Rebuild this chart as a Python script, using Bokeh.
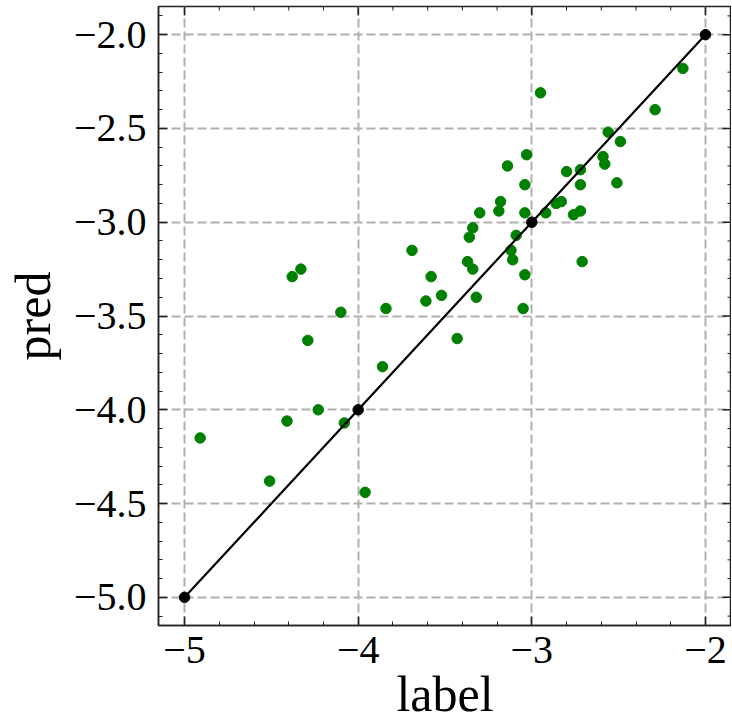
import math
from bokeh.plotting import figure
from bokeh.models import LinearAxis, FixedTicker, Range1d
from bokeh.embed import file_html
from bokeh.resources import INLINE

# ---- data ----
label_vals = [-2.13, -2.29, -2.95, -2.56, -2.49, -3.03, -2.59, -2.58, -3.14, -2.80,
              -2.72, -3.04, -2.72, -2.51, -3.18, -3.19, -3.30, -3.04, -2.92, -2.86,
              -2.83, -2.76, -2.72, -3.34, -3.36, -3.09, -3.12, -3.11, -3.37, -3.34,
              -2.71, -3.58, -3.04, -3.52, -3.32, -3.05, -3.61, -3.84, -4.10, -3.69,
              -4.38, -4.33, -4.29, -3.86, -4.91, -4.41, -4.23, -4.08, -4.51, -3.96,
              -3.43]
pred_vals = [-2.18, -2.40, -2.31, -2.52, -2.57, -2.64, -2.65, -2.69, -2.70, -2.73,
             -2.72, -2.80, -2.80, -2.79, -2.89, -2.94, -2.95, -2.95, -2.95, -2.90,
             -2.89, -2.96, -2.94, -3.03, -3.08, -3.07, -3.15, -3.20, -3.21, -3.25,
             -3.21, -3.29, -3.28, -3.39, -3.40, -3.46, -3.42, -3.46, -3.48, -3.15,
             -3.29, -3.25, -3.63, -3.77, -4.15, -4.06, -4.00, -4.07, -4.38, -4.44,
             -3.62]
ideal_x = [-5, -4, -3, -2]
ideal_y = [-5, -4, -3, -2]

x_ticks = [-5, -4, -3, -2]
x_tick_labels = ["\u22125", "\u22124", "\u22123", "\u22122"]
x_minor = [-4.8, -4.6, -4.4, -4.2, -3.8, -3.6, -3.4, -3.2,
           -2.8, -2.6, -2.4, -2.2]
y_ticks = [-5.0, -4.5, -4.0, -3.5, -3.0, -2.5, -2.0]
y_tick_labels = ["\u22125.0", "\u22124.5", "\u22124.0", "\u22123.5", "\u22123.0",
                 "\u22122.5", "\u22122.0"]
y_minor = [-5.1, -4.9, -4.8, -4.7, -4.6, -4.4, -4.3, -4.2, -4.1,
           -3.9, -3.8, -3.7, -3.6, -3.4, -3.3, -3.2, -3.1,
           -2.9, -2.8, -2.7, -2.6, -2.4, -2.3, -2.2, -2.1, -1.9]
x_title = "label"
y_title = "pred"

X_LO, X_HI = -5.15, -1.85
Y_LO, Y_HI = -5.15, -1.85

FONT = "Liberation Serif"
AX = "#222222"

p = figure(width=731, height=726,
           x_range=Range1d(X_LO, X_HI), y_range=Range1d(Y_LO, Y_HI),
           output_backend="svg", toolbar_location=None,
           x_axis_location=None, y_axis_location=None,
           min_border_left=158, min_border_right=0, min_border_top=6,
           min_border_bottom=101)
p.outline_line_color = AX
p.outline_line_width = 1.5
p.background_fill_color = "white"
p.border_fill_color = "white"

xt = FixedTicker(ticks=x_ticks, minor_ticks=x_minor)
yt = FixedTicker(ticks=y_ticks, minor_ticks=y_minor)


def style(ax):
    ax.major_tick_in = 9
    ax.major_tick_out = 0
    ax.minor_tick_in = 4
    ax.minor_tick_out = 0
    ax.axis_line_color = AX
    ax.axis_line_width = 1.5
    ax.major_tick_line_color = AX
    ax.minor_tick_line_color = AX
    ax.major_tick_line_width = 1.5
    ax.minor_tick_line_width = 1
    ax.major_label_text_font = FONT
    ax.major_label_text_font_size = "40px"
    ax.major_label_text_color = "black"
    ax.axis_label_text_font = FONT
    ax.axis_label_text_font_size = "50px"
    ax.axis_label_text_font_style = "normal"
    ax.axis_label_text_color = "black"


bx = LinearAxis(ticker=xt, axis_label=x_title,
                major_label_overrides=dict(zip(x_ticks, x_tick_labels)))
style(bx)
bx.major_label_standoff = 11
bx.axis_label_standoff = 0
p.add_layout(bx, "below")

ly = LinearAxis(ticker=yt, axis_label=y_title,
                major_label_overrides=dict(zip(y_ticks, y_tick_labels)))
style(ly)
ly.major_label_standoff = 12
ly.axis_label_standoff = 10
p.add_layout(ly, "left")

# inward ticks on the top and right edges of the frame
p.ray(x=x_ticks, y=[Y_HI] * len(x_ticks), length=9, length_units="screen",
      angle=-math.pi / 2, line_color=AX, line_width=1.5)
p.ray(x=x_minor, y=[Y_HI] * len(x_minor), length=4, length_units="screen",
      angle=-math.pi / 2, line_color=AX, line_width=1)
p.ray(x=[X_HI] * len(y_ticks), y=y_ticks, length=9, length_units="screen",
      angle=math.pi, line_color=AX, line_width=1.5)
p.ray(x=[X_HI] * len(y_minor), y=y_minor, length=4, length_units="screen",
      angle=math.pi, line_color=AX, line_width=1)

for g, t in ((p.xgrid, xt), (p.ygrid, yt)):
    g.ticker = t
    g.grid_line_color = "#b0b0b0"
    g.grid_line_width = 2
    g.grid_line_dash = "9 4"

p.scatter(label_vals, pred_vals, size=10.5, color="#008000")
p.line(ideal_x, ideal_y, line_color="black", line_width=2.2)
p.scatter(ideal_x, ideal_y, size=10.5, color="black")

open("out.html", "w").write(file_html(p, INLINE))
